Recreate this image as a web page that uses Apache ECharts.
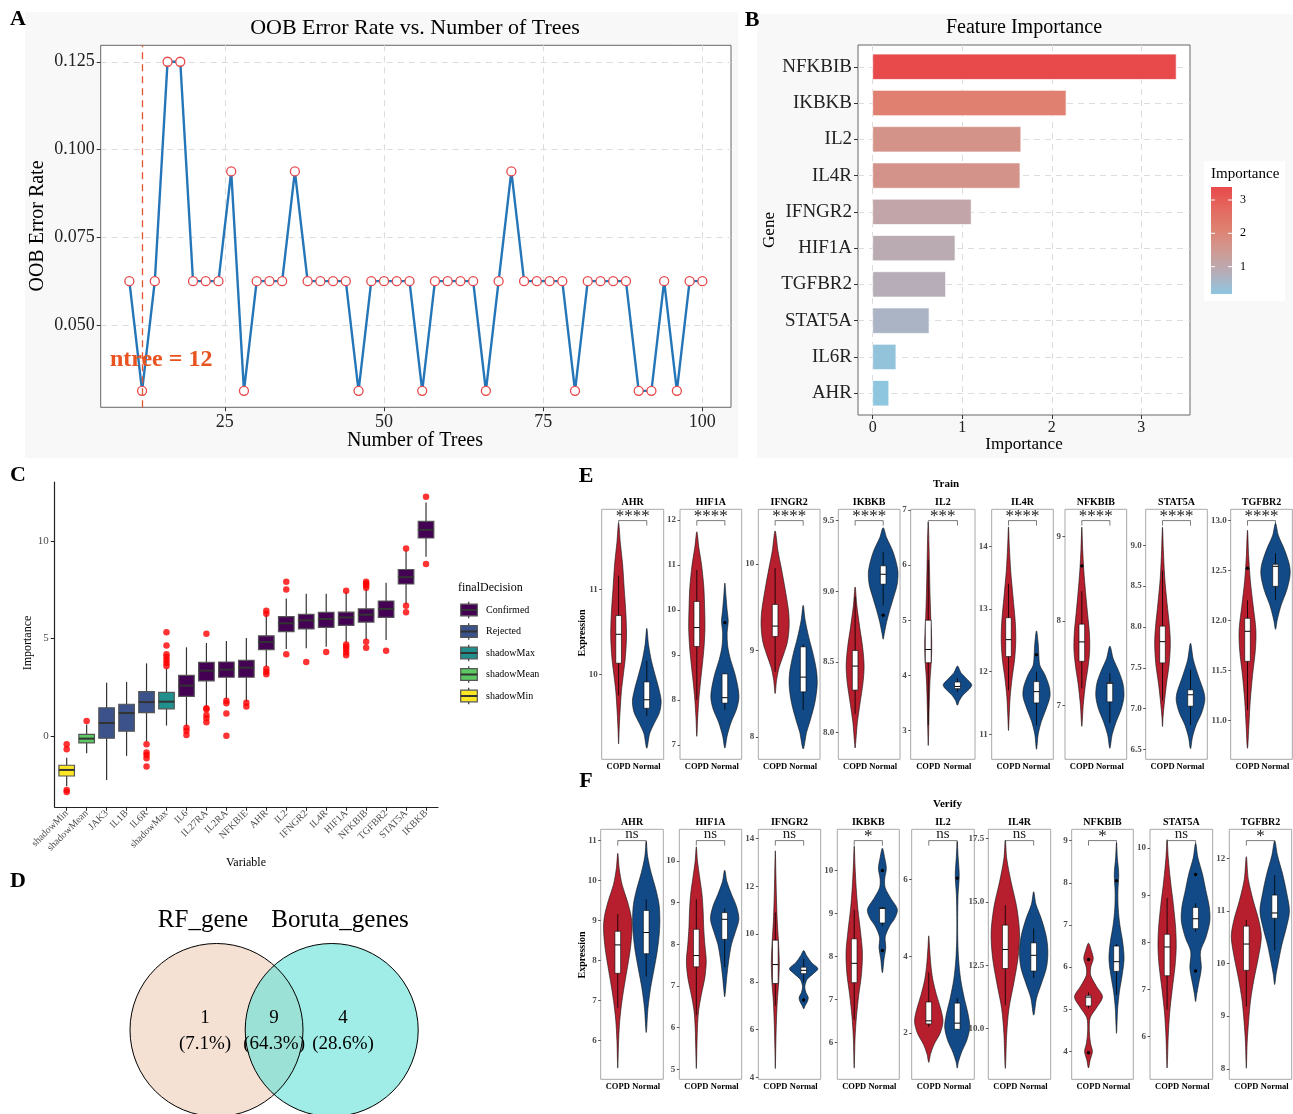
<!DOCTYPE html>
<html><head><meta charset="utf-8">
<script src="https://cdn.jsdelivr.net/npm/echarts@6/dist/echarts.min.js"></script>
<style>html,body{margin:0;padding:0;background:#fff}#c{width:1293px;height:1114px}</style>
</head><body><div id="c"></div>
<script>
// ---------------- DATA ----------------
// A: OOB error vs number of trees
const oobTrees = [10,12,14,16,18,20,22,24,26,28,30,32,34,36,38,40,42,44,46,48,50,52,54,56,58,60,62,64,66,68,70,72,74,76,78,80,82,84,86,88,90,92,94,96,98,100];
const oobError = [0.0625,0.03125,0.0625,0.125,0.125,0.0625,0.0625,0.0625,0.09375,0.03125,0.0625,0.0625,0.0625,0.09375,0.0625,0.0625,0.0625,0.0625,0.03125,0.0625,0.0625,0.0625,0.0625,0.03125,0.0625,0.0625,0.0625,0.0625,0.03125,0.0625,0.09375,0.0625,0.0625,0.0625,0.0625,0.03125,0.0625,0.0625,0.0625,0.0625,0.03125,0.03125,0.0625,0.03125,0.0625,0.0625];
const bestNtree = 12;
const ntreeLabelAt = [15, 0.04];
const oobXTicks = [25,50,75,100];
const oobYTicks = [0.05,0.075,0.1,0.125];

// B: feature importance
const featGenes = ['NFKBIB','IKBKB','IL2','IL4R','IFNGR2','HIF1A','TGFBR2','STAT5A','IL6R','AHR'];
const featImportance = [3.39,2.16,1.655,1.645,1.10,0.92,0.815,0.63,0.26,0.18];
const featXTicks = [0,1,2,3];
const legendTicks = [1,2,3];

// C: Boruta
const borutaVars = ['shadowMin','shadowMean','JAK3','IL1B','IL6R','shadowMax','IL6','IL27RA','IL2RA','NFKBIE','AHR','IL2','IFNGR2','IL4R','HIF1A','NFKBIB','TGFBR2','STAT5A','IKBKB'];
const borutaDecision = ['shadowMin','shadowMean','Rejected','Rejected','Rejected','shadowMax','Confirmed','Confirmed','Confirmed','Confirmed','Confirmed','Confirmed','Confirmed','Confirmed','Confirmed','Confirmed','Confirmed','Confirmed','Confirmed'];
const decisionLevels = ['Confirmed','Rejected','shadowMax','shadowMean','shadowMin'];
// [lower whisker, Q1, median, Q3, upper whisker]
const borutaStats = [
  [-2.55,-2.03,-1.72,-1.48,-1.1],[-0.87,-0.34,-0.12,0.10,0.6],[-2.23,-0.10,0.68,1.46,2.74],[-1.0,0.26,1.19,1.64,2.78],
  [-0.27,1.21,1.75,2.28,3.73],[0.55,1.40,1.77,2.25,3.48],[0.49,2.04,2.59,3.12,4.55],[1.52,2.83,3.36,3.78,4.77],
  [1.89,3.02,3.41,3.80,4.87],[1.77,3.02,3.51,3.88,5.03],[3.56,4.43,4.82,5.14,6.24],[4.46,5.35,5.78,6.12,7.05],
  [4.5,5.49,5.93,6.24,7.29],[4.58,5.57,6.0,6.34,7.29],[4.79,5.67,6.08,6.35,7.39],[4.92,5.84,6.22,6.52,7.56],
  [4.92,6.08,6.51,6.92,7.85],[6.76,7.79,8.14,8.53,9.52],[9.18,10.14,10.56,10.99,11.96]];
const borutaOutliers = [
  [0,-0.41],[0,-0.66],[0,-2.74],[0,-2.85],[1,0.78],
  [4,-0.41],[4,-0.83],[4,-0.95],[4,-1.12],[4,-1.55],
  [5,5.32],[5,4.65],[5,4.19],[5,4.05],[5,3.90],[5,3.75],[5,3.59],
  [6,0.44],[6,0.29],[6,0.07],
  [7,5.25],[7,1.43],[7,1.38],[7,1.09],[7,0.92],[7,0.72],
  [8,1.82],[8,1.69],[8,1.16],[8,0.03],[9,1.72],[9,1.52],
  [10,6.42],[10,6.27],[10,3.46],[10,3.30],[10,3.17],
  [11,7.90],[11,7.51],[11,4.19],[12,3.80],[13,4.31],
  [14,7.44],[14,4.70],[14,4.58],[14,4.45],[14,4.29],[14,4.14],
  [15,7.90],[15,7.82],[15,7.72],[15,7.60],[15,4.84],[15,4.53],
  [16,4.38],[17,9.61],[17,6.68],[17,6.34],[18,12.25],[18,8.81]];
const borutaYTicks = [0,5,10];

// D: Venn
const vennSets = ['RF_gene','Boruta_genes'];
const vennCounts = [1,9,4];
const vennPercents = ['7.1%','64.3%','28.6%'];

// E/F: violins
const violinGenes = ['AHR','HIF1A','IFNGR2','IKBKB','IL2','IL4R','NFKBIB','STAT5A','TGFBR2'];
const groupNames = ['COPD','Normal'];

const trainYRange = [[9.0,11.94],[6.68,12.24],[7.74,10.63],[7.81,9.58],[2.48,7.01],[10.6,14.59],[6.36,9.32],[6.38,9.44],[10.61,13.11]];
const trainYTicks = [[10,11],[7,8,9,10,11,12],[8,9,10],[8,8.5,9,9.5],[3,4,5,6,7],[11,12,13,14],[7,8,9],[6.5,7,7.5,8,8.5,9],[11,11.5,12,12.5,13]];
const trainTickDigits = [0,0,0,1,0,0,0,1,1];
const trainSig = ['****','****','****','****','***','****','****','****','****'];
// density outline: [expression, half width]
const trainCOPDViolin = [
 [[11.78,0],[11.55,0.06],[11.3,0.14],[11.0,0.2],[10.7,0.26],[10.45,0.28],[10.2,0.24],[10.0,0.17],[9.8,0.1],[9.55,0.05],[9.35,0.02],[9.18,0]],
 [[11.74,0],[11.4,0.07],[11.0,0.17],[10.5,0.25],[10.0,0.28],[9.6,0.29],[9.2,0.26],[8.8,0.2],[8.4,0.13],[8.0,0.07],[7.6,0.03],[7.19,0]],
 [[10.38,0],[10.15,0.1],[9.95,0.22],[9.7,0.36],[9.45,0.48],[9.28,0.5],[9.1,0.44],[8.95,0.3],[8.8,0.14],[8.65,0.05],[8.5,0]],
 [[9.03,0],[8.9,0.06],[8.75,0.16],[8.6,0.27],[8.47,0.32],[8.35,0.28],[8.2,0.17],[8.07,0.08],[7.95,0.03],[7.89,0]],
 [[6.78,0],[6.4,0.025],[6.0,0.04],[5.5,0.06],[5.0,0.09],[4.6,0.12],[4.3,0.11],[3.9,0.06],[3.4,0.03],[3.0,0.015],[2.73,0]],
 [[14.31,0],[14.0,0.03],[13.6,0.08],[13.2,0.16],[12.8,0.24],[12.5,0.26],[12.2,0.22],[11.9,0.13],[11.6,0.06],[11.3,0.025],[11.06,0]],
 [[9.11,0],[8.85,0.03],[8.6,0.07],[8.35,0.13],[8.1,0.2],[7.85,0.27],[7.65,0.28],[7.45,0.22],[7.25,0.13],[7.0,0.05],[6.75,0]],
 [[9.22,0],[8.95,0.03],[8.6,0.08],[8.3,0.16],[8.0,0.25],[7.8,0.28],[7.55,0.24],[7.3,0.14],[7.05,0.06],[6.9,0.02],[6.78,0]],
 [[12.9,0],[12.65,0.04],[12.4,0.1],[12.15,0.2],[11.9,0.3],[11.7,0.28],[11.45,0.18],[11.2,0.1],[10.95,0.05],[10.72,0]]];
const trainNormalViolin = [
 [[10.54,0],[10.35,0.06],[10.15,0.17],[9.95,0.33],[9.8,0.45],[9.68,0.51],[9.55,0.45],[9.42,0.26],[9.3,0.1],[9.13,0]],
 [[10.6,0],[10.3,0.04],[10.0,0.08],[9.75,0.12],[9.5,0.08],[9.2,0.1],[8.9,0.2],[8.6,0.35],[8.3,0.46],[8.05,0.5],[7.8,0.42],[7.5,0.22],[7.2,0.08],[6.93,0]],
 [[9.52,0],[9.35,0.07],[9.15,0.2],[8.95,0.36],[8.75,0.48],[8.6,0.5],[8.4,0.42],[8.2,0.26],[8.05,0.12],[7.86,0]],
 [[9.45,0],[9.38,0.12],[9.28,0.35],[9.15,0.52],[9.05,0.5],[8.95,0.36],[8.87,0.24],[8.78,0.12],[8.7,0.04],[8.66,0]],
 [[4.17,0],[4.05,0.12],[3.93,0.33],[3.83,0.49],[3.75,0.4],[3.65,0.2],[3.55,0.07],[3.46,0]],
 [[12.65,0],[12.45,0.06],[12.3,0.08],[12.1,0.12],[11.95,0.3],[11.75,0.46],[11.6,0.48],[11.4,0.34],[11.2,0.17],[11.0,0.06],[10.76,0]],
 [[7.7,0],[7.55,0.12],[7.4,0.32],[7.25,0.47],[7.1,0.5],[6.95,0.4],[6.8,0.22],[6.65,0.08],[6.49,0]],
 [[7.8,0],[7.6,0.1],[7.4,0.28],[7.2,0.48],[7.1,0.51],[6.95,0.4],[6.8,0.2],[6.65,0.07],[6.51,0]],
 [[12.97,0],[12.85,0.1],[12.7,0.33],[12.55,0.5],[12.45,0.52],[12.3,0.4],[12.15,0.2],[12.0,0.06],[11.91,0]]];
const trainCOPDBox = [[9.75,10.13,10.47,10.69,11.16],[8.0,9.19,9.61,10.19,10.89],[8.75,9.16,9.28,9.53,9.95],[8.13,8.30,8.47,8.58,8.96],[3.1,4.23,4.47,5.0,6.1],[11.7,12.24,12.51,12.86,13.4],[7.2,7.52,7.75,7.96,8.35],[7.1,7.56,7.82,8.01,8.69],[11.1,11.59,11.89,12.02,12.2]];
const trainNormalBox = [[9.51,9.60,9.70,9.91,10.16],[7.78,7.93,8.05,8.58,8.6],[8.31,8.52,8.69,9.04,9.07],[8.9,9.05,9.12,9.18,9.28],[3.7,3.76,3.80,3.88,3.95],[11.14,11.5,11.68,11.84,12.0],[6.79,7.04,7.26,7.27,7.38],[6.8,7.03,7.17,7.23,7.48],[12.2,12.34,12.54,12.56,12.67]];
// [gene index, group index, value]
const trainOutliers = [[1,1,9.72],[3,1,8.83],[5,1,12.27],[6,0,8.65],[8,0,12.52]];

const verifyYRange = [[5.03,11.28],[4.76,10.76],[3.92,14.38],[5.14,10.96],[0.8,7.3],[8.0,17.86],[3.34,9.27],[5.09,10.4],[7.8,12.55]];
const verifyYTicks = [[6,7,8,9,10,11],[5,6,7,8,9,10],[4,6,8,10,12,14],[6,7,8,9,10],[2,4,6],[10,12.5,15,17.5],[4,5,6,7,8,9],[6,7,8,9,10],[8,9,10,11,12]];
const verifyTickDigits = [0,0,0,0,0,1,0,0,0];
const verifySig = ['ns','ns','ns','*','ns','ns','*','ns','*'];
const verifyCOPDViolin = [
 [[10.68,0],[10.3,0.05],[9.9,0.15],[9.5,0.33],[9.1,0.47],[8.8,0.5],[8.4,0.46],[8.0,0.38],[7.5,0.26],[7.0,0.15],[6.5,0.07],[6.0,0.03],[5.31,0]],
 [[10.34,0],[10.0,0.04],[9.6,0.12],[9.2,0.2],[8.8,0.24],[8.4,0.26],[8.0,0.3],[7.6,0.35],[7.2,0.3],[6.8,0.18],[6.4,0.08],[6.0,0.04],[5.5,0.02],[5.02,0]],
 [[13.48,0],[12.5,0.02],[11.5,0.04],[10.5,0.07],[9.7,0.11],[8.8,0.14],[8.0,0.12],[7.2,0.07],[6.2,0.035],[5.2,0.015],[4.37,0]],
 [[10.57,0],[10.1,0.03],[9.6,0.07],[9.1,0.13],[8.6,0.22],[8.1,0.29],[7.6,0.26],[7.1,0.16],[6.6,0.08],[6.1,0.03],[5.4,0]],
 [[4.53,0],[4.2,0.03],[3.8,0.07],[3.4,0.14],[3.0,0.27],[2.6,0.43],[2.3,0.5],[2.0,0.4],[1.7,0.18],[1.45,0.06],[1.24,0]],
 [[17.43,0],[16.7,0.05],[15.8,0.2],[14.8,0.4],[13.8,0.5],[12.8,0.45],[11.8,0.3],[10.8,0.13],[9.8,0.05],[8.43,0]],
 [[6.57,0],[6.4,0.1],[6.2,0.17],[6.0,0.08],[5.8,0.08],[5.55,0.28],[5.3,0.5],[5.05,0.3],[4.8,0.06],[4.5,0.03],[4.2,0.07],[4.0,0.14],[3.8,0.06],[3.61,0]],
 [[10.18,0],[9.8,0.04],[9.3,0.12],[8.8,0.22],[8.3,0.3],[7.9,0.32],[7.5,0.28],[7.0,0.18],[6.5,0.09],[6.0,0.04],[5.33,0]],
 [[12.03,0],[11.6,0.07],[11.2,0.24],[10.8,0.45],[10.5,0.53],[10.1,0.42],[9.7,0.27],[9.3,0.15],[8.9,0.08],[8.5,0.03],[8.01,0]]];
const verifyNormalViolin = [
 [[10.98,0],[10.6,0.05],[10.2,0.17],[9.8,0.33],[9.4,0.45],[9.0,0.48],[8.6,0.45],[8.2,0.38],[7.8,0.28],[7.3,0.15],[6.8,0.06],[6.2,0]],
 [[9.78,0],[9.5,0.08],[9.2,0.24],[8.9,0.42],[8.6,0.5],[8.3,0.38],[8.0,0.24],[7.6,0.14],[7.2,0.07],[6.9,0.03],[6.74,0]],
 [[9.31,0],[9.1,0.1],[8.8,0.28],[8.55,0.5],[8.35,0.35],[8.1,0.12],[7.8,0.04],[7.55,0.08],[7.35,0.16],[7.2,0.14],[7.0,0.05],[6.87,0]],
 [[10.52,0],[10.3,0.08],[10.05,0.14],[9.8,0.08],[9.6,0.1],[9.35,0.3],[9.1,0.53],[8.9,0.45],[8.7,0.25],[8.45,0.1],[8.2,0.12],[7.95,0.06],[7.62,0]],
 [[6.98,0],[6.6,0.03],[6.1,0.07],[5.6,0.03],[5.0,0.015],[4.4,0.02],[3.9,0.05],[3.4,0.12],[2.9,0.25],[2.5,0.38],[2.15,0.44],[1.8,0.33],[1.5,0.15],[1.25,0.04],[1.09,0]],
 [[15.4,0],[14.9,0.08],[14.3,0.28],[13.6,0.45],[13.0,0.5],[12.4,0.45],[11.8,0.28],[11.2,0.1],[10.53,0]],
 [[8.95,0],[8.6,0.03],[8.2,0.08],[7.8,0.05],[7.4,0.06],[7.0,0.12],[6.6,0.22],[6.2,0.27],[5.8,0.2],[5.4,0.1],[5.0,0.04],[4.43,0]],
 [[10.1,0],[9.8,0.08],[9.45,0.24],[9.1,0.36],[8.75,0.48],[8.45,0.5],[8.1,0.36],[7.8,0.17],[7.45,0.2],[7.1,0.1],[6.9,0.04],[6.74,0]],
 [[12.33,0],[12.05,0.1],[11.7,0.28],[11.35,0.42],[11.0,0.52],[10.7,0.42],[10.35,0.25],[10.0,0.12],[9.8,0.05],[9.6,0]]];
const verifyCOPDBox = [[6.81,7.68,8.39,8.73,9.16],[6.3,7.46,7.73,8.36,9.08],[7.0,7.93,8.72,9.74,10.9],[6.53,7.39,7.84,8.41,9.09],[2.16,2.24,2.32,2.81,3.58],[10.92,12.37,13.12,14.08,14.87],[5.02,5.08,5.29,5.33,5.4],[6.57,7.29,7.9,8.17,8.94],[9.18,9.87,10.37,10.71,10.83]];
const verifyNormalBox = [[7.6,8.17,8.7,9.25,9.53],[7.45,8.12,8.6,8.76,8.86],[7.97,8.34,8.48,8.61,8.96],[8.7,8.78,9.12,9.13,9.14],[2.09,2.1,2.26,2.78,2.91],[12.0,12.27,12.89,13.38,13.95],[5.35,5.9,6.13,6.5,6.55],[8.22,8.29,8.5,8.74,8.83],[10.25,10.86,10.96,11.3,11.68]];
const verifyOutliers = [[2,1,7.24],[3,1,10.0],[3,1,8.14],[4,1,6.03],[6,0,6.18],[6,0,3.97],[6,1,8.05],[7,1,9.44],[7,1,7.39]];

// ---------------- STYLE / LAYOUT ----------------
const SERIF = '"Liberation Serif","Times New Roman",serif';
const importanceColors = ['#8EC6E0','#B6ADB8','#CF9A93','#DE8272','#E4685E','#E84A4B'];
const decisionColors = {Confirmed:'#440154', Rejected:'#3B528B', shadowMax:'#21908C', shadowMean:'#5DC863', shadowMin:'#FDE725'};
const groupColors = ['#B71F2E','#114A87'];
const trainGridX = [[601.7,663.7],[680,741.7],[758.3,820],[838.3,900],[910.7,975],[991.7,1053.3],[1065,1126.7],[1145.7,1207.3],[1230.7,1292.3]];
const verifyGridX = [[600.7,663.3],[679.3,741.7],[758.3,820.7],[837.3,899.3],[911.7,974.3],[988.3,1050.7],[1071.7,1133.3],[1150,1212.7],[1229.3,1291.7]];

const chart = echarts.init(document.getElementById('c'), null, {width:1293, height:1114});
const grids = [], xAxes = [], yAxes = [], series = [], gfx = [];
function addGrid(g){ grids.push(Object.assign({outerBoundsMode:'none', containLabel:false}, g)); return grids.length-1; }
function txt(x, y, text, size, o){ o = o || {}; return {type:'text', x:x, y:y, rotation:o.rot||0, z:100, silent:true,
  style:{text:text, fontSize:size, fontFamily:SERIF, fontWeight:o.bold?'bold':'normal', fill:o.color||'#000', align:o.align||'center', verticalAlign:'middle'}}; }

// backgrounds
gfx.push({type:'rect', z:-10, shape:{x:25,y:12,width:713,height:446}, style:{fill:'#F8F8F8'}});
gfx.push({type:'rect', z:-10, shape:{x:757,y:14,width:536,height:444}, style:{fill:'#F8F8F8'}});
// panel letters
[['A',18,19],['B',752,20],['C',18,475],['D',18,881],['E',586,476],['F',586,781]].forEach(l=>gfx.push(txt(l[1],l[2],l[0],22,{bold:true})));

// ---------- Panel A ----------
const gA = addGrid({left:100.7, top:45.3, width:630.3, height:362, show:true, borderColor:'#666', borderWidth:1, backgroundColor:'#fff'});
xAxes.push({gridIndex:gA, type:'value', min:5.5, max:104.5, axisLine:{show:false,onZero:false},
  axisTick:{show:true, length:4, customValues:oobXTicks, lineStyle:{color:'#333'}},
  axisLabel:{customValues:oobXTicks, fontSize:18, fontFamily:SERIF, color:'#222', margin:6},
  splitLine:{show:true, lineStyle:{color:'#DCDCDC', type:[6,5], width:1}}});
yAxes.push({gridIndex:gA, type:'value', min:0.0265625, max:0.1296875, axisLine:{show:false,onZero:false},
  axisTick:{show:true, length:4, customValues:oobYTicks, lineStyle:{color:'#333'}},
  axisLabel:{customValues:oobYTicks, fontSize:18, fontFamily:SERIF, color:'#222', margin:6, formatter:v=>Number(v).toFixed(3)},
  splitLine:{show:true, lineStyle:{color:'#DCDCDC', type:[6,5], width:1}}});
series.push({type:'line', xAxisIndex:0, yAxisIndex:0, data:oobTrees.map((t,i)=>[t,oobError[i]]),
  symbol:'circle', symbolSize:9, lineStyle:{color:'#2576B8', width:2.4}, itemStyle:{color:'#fff', borderColor:'#E8474B', borderWidth:1.3},
  markLine:{silent:true, symbol:'none', label:{show:false}, lineStyle:{color:'#E0562E', type:[7,5], width:1.3}, data:[{xAxis:bestNtree}]}, z:3});
gfx.push(txt(415,28,'OOB Error Rate vs. Number of Trees',22));
gfx.push(txt(415,441,'Number of Trees',20));
gfx.push(txt(38,226,'OOB Error Rate',20,{rot:Math.PI/2}));

// ---------- Panel B ----------
const gB = addGrid({left:858, top:45, width:332, height:370, show:true, borderColor:'#666', borderWidth:1, backgroundColor:'#fff'});
xAxes.push({gridIndex:gB, type:'value', min:-0.164, max:3.544, axisLine:{show:false,onZero:false},
  axisTick:{show:true, length:4, customValues:featXTicks, lineStyle:{color:'#333'}},
  axisLabel:{customValues:featXTicks, fontSize:16, fontFamily:SERIF, color:'#222', margin:5},
  splitLine:{show:true, lineStyle:{color:'#DCDCDC', type:[6,5]}}});
const featYTicks = featGenes.map((g,i)=>featGenes.length-i);
yAxes.push({gridIndex:gB, type:'value', min:0.4, max:10.6, axisLine:{show:false,onZero:false},
  axisTick:{show:true, length:4, customValues:featYTicks, lineStyle:{color:'#333'}},
  axisLabel:{customValues:featYTicks, fontSize:19, fontFamily:SERIF, color:'#222', margin:6, formatter:v=>featGenes[featGenes.length-Math.round(v)]},
  splitLine:{show:true, lineStyle:{color:'#DCDCDC', type:[6,5]}}});
const impMin = Math.min(...featImportance), impMax = Math.max(...featImportance);
series.push({type:'custom', xAxisIndex:1, yAxisIndex:1, data:featImportance.map((v,i)=>[v, featGenes.length-i]),
  renderItem:(params, api)=>{
    const v = api.value(0), y = api.value(1);
    const p0 = api.coord([0, y+0.35]), p1 = api.coord([v, y-0.35]);
    const col = echarts.color.lerp((v-impMin)/(impMax-impMin), importanceColors);
    return {type:'rect', shape:{x:p0[0], y:p0[1], width:p1[0]-p0[0], height:p1[1]-p0[1]}, style:{fill:col, stroke:'rgba(255,255,255,0.7)', lineWidth:1}};
  }, z:3});
gfx.push(txt(1024,28,'Feature Importance',20));
gfx.push(txt(1024,445,'Importance',17));
gfx.push(txt(770,230,'Gene',17,{rot:Math.PI/2}));
// colour bar legend
const cbX = 1211, cbW = 21, cbTop = 187, cbBot = 294;
const cbY = v => cbBot - (v-impMin)/(impMax-impMin)*(cbBot-cbTop);
gfx.push({type:'rect', z:1, shape:{x:1204,y:161,width:81,height:140}, style:{fill:'#fff'}});
gfx.push(txt(1211,174,'Importance',15,{align:'left'}));
gfx.push({type:'rect', z:2, shape:{x:cbX,y:cbTop,width:cbW,height:cbBot-cbTop},
  style:{fill:{type:'linear', x:0,y:1,x2:0,y2:0, colorStops:importanceColors.map((c,i)=>({offset:i/(importanceColors.length-1), color:c}))}}});
legendTicks.forEach(t=>{
  const y = cbY(t);
  gfx.push({type:'line', z:3, shape:{x1:cbX,y1:y,x2:cbX+4,y2:y}, style:{stroke:'#fff', lineWidth:1}});
  gfx.push({type:'line', z:3, shape:{x1:cbX+cbW-4,y1:y,x2:cbX+cbW,y2:y}, style:{stroke:'#fff', lineWidth:1}});
  gfx.push(txt(1240,y,String(t),12,{align:'left'}));
});

// ---------- Panel C ----------
const gC = addGrid({left:54.7, top:482, width:383.3, height:324.8});
const borutaXTicks = borutaVars.map((v,i)=>i+1);
xAxes.push({gridIndex:gC, type:'value', min:0.4, max:borutaVars.length+0.6,
  axisLine:{show:true, onZero:false, lineStyle:{color:'#222', width:1.2}},
  axisTick:{show:true, length:4, customValues:borutaXTicks, lineStyle:{color:'#222'}},
  axisLabel:{customValues:borutaXTicks, rotate:45, fontSize:10, fontFamily:SERIF, color:'#4d4d4d', margin:5, formatter:v=>borutaVars[Math.round(v)-1]},
  splitLine:{show:false}});
yAxes.push({gridIndex:gC, type:'value', min:-3.605, max:13.005,
  axisLine:{show:true, onZero:false, lineStyle:{color:'#222', width:1.2}},
  axisTick:{show:true, length:4, customValues:borutaYTicks, lineStyle:{color:'#222'}},
  axisLabel:{customValues:borutaYTicks, fontSize:11, fontFamily:SERIF, color:'#4d4d4d', margin:6},
  splitLine:{show:false}});
series.push({type:'custom', xAxisIndex:2, yAxisIndex:2, data:borutaStats.map((s,i)=>[i+1, s[2]]),
  renderItem:(params, api)=>{
    const i = params.dataIndex, x = i+1, s = borutaStats[i];
    const c = v => api.coord([x, v]);
    const lo=c(s[0]), q1=c(s[1]), md=c(s[2]), q3=c(s[3]), hi=c(s[4]);
    const xl = api.coord([x-0.39, s[2]])[0], xr = api.coord([x+0.39, s[2]])[0];
    return {type:'group', children:[
      {type:'line', shape:{x1:lo[0],y1:lo[1],x2:hi[0],y2:hi[1]}, style:{stroke:'#333', lineWidth:1.2}},
      {type:'rect', shape:{x:xl,y:q3[1],width:xr-xl,height:q1[1]-q3[1]}, style:{fill:decisionColors[borutaDecision[i]], stroke:'#555', lineWidth:1.2}},
      {type:'line', shape:{x1:xl,y1:md[1],x2:xr,y2:md[1]}, style:{stroke:'#333', lineWidth:2}}
    ]};
  }, z:3});
series.push({type:'scatter', xAxisIndex:2, yAxisIndex:2, data:borutaOutliers.map(o=>[o[0]+1,o[1]]), symbol:'circle', symbolSize:6.5, itemStyle:{color:'#FF0000'}, z:4, silent:true});
gfx.push(txt(246,863,'Variable',12));
gfx.push(txt(28,643,'Importance',12,{rot:Math.PI/2}));
gfx.push(txt(458,588,'finalDecision',12,{align:'left'}));
decisionLevels.forEach((d,k)=>{
  const yc = 610 + k*21.5;
  gfx.push({type:'line', shape:{x1:468.7,y1:yc-8.3,x2:468.7,y2:yc+8.3}, style:{stroke:'#333', lineWidth:1.2}});
  gfx.push({type:'rect', shape:{x:460.7,y:yc-5.8,width:16.6,height:11.6}, style:{fill:decisionColors[d], stroke:'#555', lineWidth:1.2}});
  gfx.push({type:'line', shape:{x1:460.7,y1:yc,x2:477.3,y2:yc}, style:{stroke:'#333', lineWidth:2}});
  gfx.push(txt(486,yc,d,10,{align:'left'}));
});

// ---------- Panel D (Venn) ----------
const vennC = [[216.5,1030],[331.7,1030]], vennR = 86.5;
gfx.push({type:'circle', shape:{cx:vennC[0][0],cy:vennC[0][1],r:vennR}, style:{fill:'#F5E1D4'}});
gfx.push({type:'circle', shape:{cx:vennC[1][0],cy:vennC[1][1],r:vennR}, style:{fill:'rgba(95,225,213,0.6)'}});
vennC.forEach(c=>gfx.push({type:'circle', shape:{cx:c[0],cy:c[1],r:vennR}, style:{fill:null, stroke:'#000', lineWidth:1}}));
gfx.push(txt(203,920,vennSets[0],25));
gfx.push(txt(340,920,vennSets[1],25));
[205,274.1,343].forEach((x,i)=>{
  gfx.push(txt(x,1018,String(vennCounts[i]),19));
  gfx.push(txt(x,1044,'('+vennPercents[i]+')',19));
});

// ---------- Panels E / F (violins) ----------
function makeSet(name, gridX, top, bottom, yr, ticks, digits, sig, vC, vN, bC, bN, outl, labelY, exprY){
  return {name, gridX, top, bottom, yr, ticks, digits, sig, violins:[vC,vN], boxes:[bC,bN], outliers:outl, labelY, exprY};
}
const sets = [
  makeSet('Train', trainGridX, 509.3, 759.3, trainYRange, trainYTicks, trainTickDigits, trainSig, trainCOPDViolin, trainNormalViolin, trainCOPDBox, trainNormalBox, trainOutliers, 484, 633),
  makeSet('Verify', verifyGridX, 829.3, 1079.3, verifyYRange, verifyYTicks, verifyTickDigits, verifySig, verifyCOPDViolin, verifyNormalViolin, verifyCOPDBox, verifyNormalBox, verifyOutliers, 804, 955)
];
function violinRender(set, p){
  return function(params, api){
    const gi = params.dataIndex, gx = gi+1;
    const prof = set.violins[gi][p];
    const pts = [];
    for (let k=0;k<prof.length;k++) pts.push(api.coord([gx+prof[k][1], prof[k][0]]));
    for (let k=prof.length-2;k>=1;k--) pts.push(api.coord([gx-prof[k][1], prof[k][0]]));
    const ch = [{type:'polygon', shape:{points:pts, smooth:0.3}, style:{fill:groupColors[gi], stroke:'#111', lineWidth:0.6}}];
    const b = set.boxes[gi][p];
    const c = v => api.coord([gx, v]);
    const lo=c(b[0]), q1=c(b[1]), md=c(b[2]), q3=c(b[3]), hi=c(b[4]);
    const xl = api.coord([gx-0.1,b[2]])[0], xr = api.coord([gx+0.1,b[2]])[0];
    ch.push({type:'line', shape:{x1:lo[0],y1:lo[1],x2:hi[0],y2:hi[1]}, style:{stroke:'#000', lineWidth:0.8}});
    ch.push({type:'rect', shape:{x:xl,y:q3[1],width:xr-xl,height:Math.max(q1[1]-q3[1],0.8)}, style:{fill:'#fff', stroke:'#000', lineWidth:0.6}});
    ch.push({type:'line', shape:{x1:xl,y1:md[1],x2:xr,y2:md[1]}, style:{stroke:'#000', lineWidth:1}});
    set.outliers.forEach(o=>{ if (o[0]===p && o[1]===gi){ const q=c(o[2]); ch.push({type:'circle', shape:{cx:q[0],cy:q[1],r:1.7}, style:{fill:'#000'}}); }});
    if (gi===0){
      const x1 = api.coord([1,b[2]])[0], x2 = api.coord([2,b[2]])[0];
      const yb = params.coordSys.y + 11.3;
      ch.push({type:'polyline', shape:{points:[[x1,yb+5],[x1,yb],[x2,yb],[x2,yb+5]]}, style:{stroke:'#444', lineWidth:0.7, fill:null}});
      const isStar = set.sig[p].charAt(0)==='*';
      ch.push({type:'text', x:(x1+x2)/2, y:yb-(isStar?4:7), style:{text:set.sig[p], fontSize:isStar?17:15, fontFamily:SERIF, fill:'#222', align:'center', verticalAlign:'middle'}});
    }
    return {type:'group', children:ch};
  };
}
sets.forEach(set=>{
  gfx.push(txt(933,set.labelY,set.name,11,{bold:true, align:'left'}));
  gfx.push(txt(582.7,set.exprY,'Expression',10,{bold:true, rot:Math.PI/2}));
  violinGenes.forEach((gene,p)=>{
    const [l,r] = set.gridX[p];
    const gi = addGrid({left:l, top:set.top, width:r-l, height:set.bottom-set.top, show:true, borderColor:'#A8A8A8', borderWidth:1, backgroundColor:'#fff'});
    const ax = xAxes.length;
    xAxes.push({gridIndex:gi, type:'value', min:0.4, max:2.6, axisLine:{show:false,onZero:false}, axisTick:{show:false},
      axisLabel:{customValues:[1,2], fontSize:8.5, fontWeight:'bold', fontFamily:SERIF, color:'#000', margin:3, formatter:v=>groupNames[Math.round(v)-1]},
      splitLine:{show:false}});
    const d = set.digits[p];
    yAxes.push({gridIndex:gi, type:'value', min:set.yr[p][0], max:set.yr[p][1], axisLine:{show:false,onZero:false},
      axisTick:{show:true, length:2.5, customValues:set.ticks[p], lineStyle:{color:'#555'}},
      axisLabel:{customValues:set.ticks[p], fontSize:9, fontWeight:'bold', fontFamily:SERIF, color:'#4d4d4d', margin:4, formatter:v=>Number(v).toFixed(d)},
      splitLine:{show:false}});
    series.push({type:'custom', xAxisIndex:ax, yAxisIndex:ax, data:[[1,set.yr[p][0]],[2,set.yr[p][0]]], renderItem:violinRender(set,p), z:3, silent:true});
    gfx.push(txt((l+r)/2, set.top-7.3, gene, 10, {bold:true}));
  });
});

const baseOption = {
  animation:false,
  backgroundColor:'#fff',
  textStyle:{fontFamily:SERIF},
  grid:grids, xAxis:xAxes, yAxis:yAxes, series:series,
  graphic:{elements:gfx}
};
chart.setOption(baseOption);
// ntree annotation placed through the panel-A scales
const np = chart.convertToPixel({gridIndex:gA}, ntreeLabelAt);
gfx.push(txt(np[0], np[1], 'ntree = ' + bestNtree, 24, {bold:true, color:'#E8531F'}));
chart.setOption({graphic:{elements:gfx}});
</script></body></html>
